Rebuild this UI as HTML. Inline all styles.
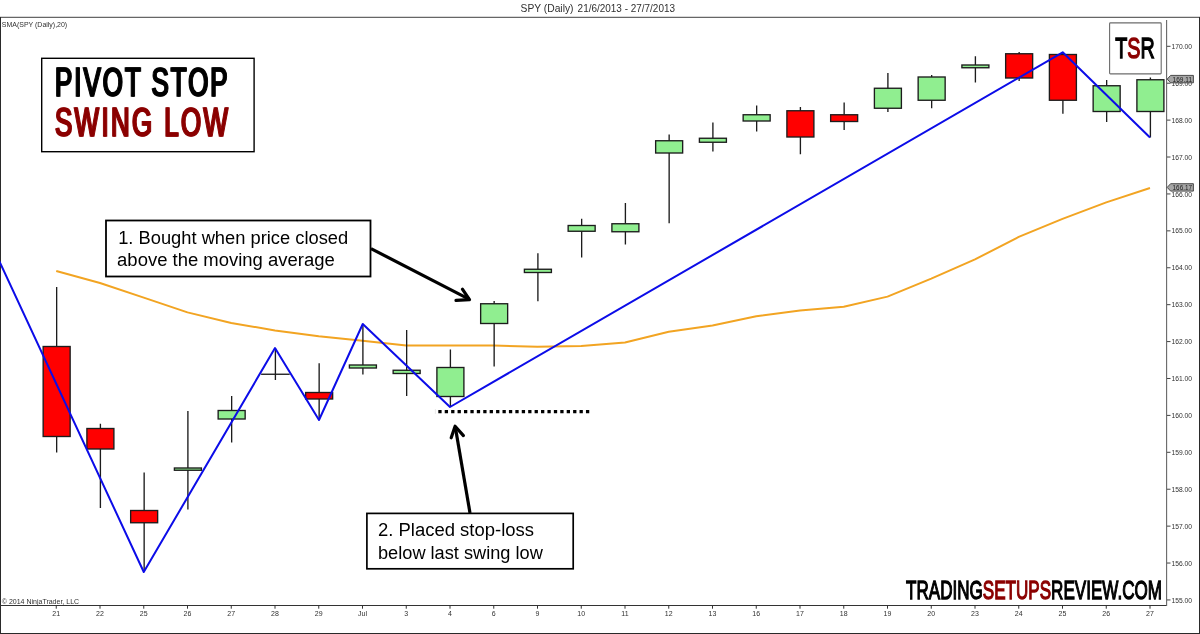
<!DOCTYPE html>
<html lang="en"><head><meta charset="utf-8"><title>Pivot Stop Swing Low</title>
<style>html,body{margin:0;padding:0;background:#fff;}body{width:1200px;height:634px;overflow:hidden;}svg{display:block;}text{font-family:'Liberation Sans', Arial, sans-serif;}</style>
</head><body>
<svg width="1200" height="634" viewBox="0 0 1200 634">
<rect x="0" y="0" width="1200" height="634" fill="#fff"/>
<defs><filter id="fat" x="-5%" y="-10%" width="110%" height="120%"><feOffset in="SourceGraphic" dx="1" dy="0" result="o"/><feMerge><feMergeNode in="SourceGraphic"/><feMergeNode in="o"/></feMerge></filter></defs>
<text y="11.7" font-size="10.2" fill="#303030"><tspan x="520.6" textLength="52.9" lengthAdjust="spacingAndGlyphs">SPY (Daily)</tspan> <tspan x="577.6" textLength="97.4" lengthAdjust="spacingAndGlyphs">21/6/2013 - 27/7/2013</tspan></text>
<g fill="none">
<line x1="0" y1="17.3" x2="1200" y2="17.3" stroke-width="1.2" stroke="#666"/>
<line x1="0.5" y1="17" x2="0.5" y2="634" stroke-width="1" stroke="#2a2a2a"/>
<line x1="0" y1="633.5" x2="1200" y2="633.5" stroke-width="1" stroke="#2a2a2a"/>
<line x1="1199.5" y1="17" x2="1199.5" y2="634" stroke-width="1" stroke="#2a2a2a"/>
<line x1="0" y1="605.5" x2="1167" y2="605.5" stroke-width="1" stroke="#333"/>
<line x1="1166.6" y1="20" x2="1166.6" y2="606" stroke-width="1.1" stroke="#666"/>
</g>
<g font-size="7" fill="#303030">
<line x1="1167" y1="599.95" x2="1170.5" y2="599.95" stroke="#444" stroke-width="1"/>
<text x="1171.5" y="602.55" textLength="20.5" lengthAdjust="spacingAndGlyphs">155.00</text>
<line x1="1167" y1="563.04" x2="1170.5" y2="563.04" stroke="#444" stroke-width="1"/>
<text x="1171.5" y="565.64" textLength="20.5" lengthAdjust="spacingAndGlyphs">156.00</text>
<line x1="1167" y1="526.13" x2="1170.5" y2="526.13" stroke="#444" stroke-width="1"/>
<text x="1171.5" y="528.73" textLength="20.5" lengthAdjust="spacingAndGlyphs">157.00</text>
<line x1="1167" y1="489.22" x2="1170.5" y2="489.22" stroke="#444" stroke-width="1"/>
<text x="1171.5" y="491.82" textLength="20.5" lengthAdjust="spacingAndGlyphs">158.00</text>
<line x1="1167" y1="452.31" x2="1170.5" y2="452.31" stroke="#444" stroke-width="1"/>
<text x="1171.5" y="454.91" textLength="20.5" lengthAdjust="spacingAndGlyphs">159.00</text>
<line x1="1167" y1="415.40" x2="1170.5" y2="415.40" stroke="#444" stroke-width="1"/>
<text x="1171.5" y="418.00" textLength="20.5" lengthAdjust="spacingAndGlyphs">160.00</text>
<line x1="1167" y1="378.49" x2="1170.5" y2="378.49" stroke="#444" stroke-width="1"/>
<text x="1171.5" y="381.09" textLength="20.5" lengthAdjust="spacingAndGlyphs">161.00</text>
<line x1="1167" y1="341.58" x2="1170.5" y2="341.58" stroke="#444" stroke-width="1"/>
<text x="1171.5" y="344.18" textLength="20.5" lengthAdjust="spacingAndGlyphs">162.00</text>
<line x1="1167" y1="304.67" x2="1170.5" y2="304.67" stroke="#444" stroke-width="1"/>
<text x="1171.5" y="307.27" textLength="20.5" lengthAdjust="spacingAndGlyphs">163.00</text>
<line x1="1167" y1="267.76" x2="1170.5" y2="267.76" stroke="#444" stroke-width="1"/>
<text x="1171.5" y="270.36" textLength="20.5" lengthAdjust="spacingAndGlyphs">164.00</text>
<line x1="1167" y1="230.85" x2="1170.5" y2="230.85" stroke="#444" stroke-width="1"/>
<text x="1171.5" y="233.45" textLength="20.5" lengthAdjust="spacingAndGlyphs">165.00</text>
<line x1="1167" y1="193.94" x2="1170.5" y2="193.94" stroke="#444" stroke-width="1"/>
<text x="1171.5" y="196.54" textLength="20.5" lengthAdjust="spacingAndGlyphs">166.00</text>
<line x1="1167" y1="157.03" x2="1170.5" y2="157.03" stroke="#444" stroke-width="1"/>
<text x="1171.5" y="159.63" textLength="20.5" lengthAdjust="spacingAndGlyphs">167.00</text>
<line x1="1167" y1="120.12" x2="1170.5" y2="120.12" stroke="#444" stroke-width="1"/>
<text x="1171.5" y="122.72" textLength="20.5" lengthAdjust="spacingAndGlyphs">168.00</text>
<line x1="1167" y1="83.21" x2="1170.5" y2="83.21" stroke="#444" stroke-width="1"/>
<text x="1171.5" y="85.81" textLength="20.5" lengthAdjust="spacingAndGlyphs">169.00</text>
<line x1="1167" y1="46.30" x2="1170.5" y2="46.30" stroke="#444" stroke-width="1"/>
<text x="1171.5" y="48.90" textLength="20.5" lengthAdjust="spacingAndGlyphs">170.00</text>
</g>
<g font-size="7" fill="#303030" text-anchor="middle">
<line x1="56.25" y1="605" x2="56.25" y2="608.7" stroke="#333" stroke-width="1"/>
<text x="56.25" y="616.1">21</text>
<line x1="100.00" y1="605" x2="100.00" y2="608.7" stroke="#333" stroke-width="1"/>
<text x="100.00" y="616.1">22</text>
<line x1="143.75" y1="605" x2="143.75" y2="608.7" stroke="#333" stroke-width="1"/>
<text x="143.75" y="616.1">25</text>
<line x1="187.50" y1="605" x2="187.50" y2="608.7" stroke="#333" stroke-width="1"/>
<text x="187.50" y="616.1">26</text>
<line x1="231.25" y1="605" x2="231.25" y2="608.7" stroke="#333" stroke-width="1"/>
<text x="231.25" y="616.1">27</text>
<line x1="275.00" y1="605" x2="275.00" y2="608.7" stroke="#333" stroke-width="1"/>
<text x="275.00" y="616.1">28</text>
<line x1="318.75" y1="605" x2="318.75" y2="608.7" stroke="#333" stroke-width="1"/>
<text x="318.75" y="616.1">29</text>
<line x1="362.50" y1="605" x2="362.50" y2="608.7" stroke="#333" stroke-width="1"/>
<text x="362.50" y="616.1">Jul</text>
<line x1="406.25" y1="605" x2="406.25" y2="608.7" stroke="#333" stroke-width="1"/>
<text x="406.25" y="616.1">3</text>
<line x1="450.00" y1="605" x2="450.00" y2="608.7" stroke="#333" stroke-width="1"/>
<text x="450.00" y="616.1">4</text>
<line x1="493.75" y1="605" x2="493.75" y2="608.7" stroke="#333" stroke-width="1"/>
<text x="493.75" y="616.1">6</text>
<line x1="537.50" y1="605" x2="537.50" y2="608.7" stroke="#333" stroke-width="1"/>
<text x="537.50" y="616.1">9</text>
<line x1="581.25" y1="605" x2="581.25" y2="608.7" stroke="#333" stroke-width="1"/>
<text x="581.25" y="616.1">10</text>
<line x1="625.00" y1="605" x2="625.00" y2="608.7" stroke="#333" stroke-width="1"/>
<text x="625.00" y="616.1">11</text>
<line x1="668.75" y1="605" x2="668.75" y2="608.7" stroke="#333" stroke-width="1"/>
<text x="668.75" y="616.1">12</text>
<line x1="712.50" y1="605" x2="712.50" y2="608.7" stroke="#333" stroke-width="1"/>
<text x="712.50" y="616.1">13</text>
<line x1="756.25" y1="605" x2="756.25" y2="608.7" stroke="#333" stroke-width="1"/>
<text x="756.25" y="616.1">16</text>
<line x1="800.00" y1="605" x2="800.00" y2="608.7" stroke="#333" stroke-width="1"/>
<text x="800.00" y="616.1">17</text>
<line x1="843.75" y1="605" x2="843.75" y2="608.7" stroke="#333" stroke-width="1"/>
<text x="843.75" y="616.1">18</text>
<line x1="887.50" y1="605" x2="887.50" y2="608.7" stroke="#333" stroke-width="1"/>
<text x="887.50" y="616.1">19</text>
<line x1="931.25" y1="605" x2="931.25" y2="608.7" stroke="#333" stroke-width="1"/>
<text x="931.25" y="616.1">20</text>
<line x1="975.00" y1="605" x2="975.00" y2="608.7" stroke="#333" stroke-width="1"/>
<text x="975.00" y="616.1">23</text>
<line x1="1018.75" y1="605" x2="1018.75" y2="608.7" stroke="#333" stroke-width="1"/>
<text x="1018.75" y="616.1">24</text>
<line x1="1062.50" y1="605" x2="1062.50" y2="608.7" stroke="#333" stroke-width="1"/>
<text x="1062.50" y="616.1">25</text>
<line x1="1106.25" y1="605" x2="1106.25" y2="608.7" stroke="#333" stroke-width="1"/>
<text x="1106.25" y="616.1">26</text>
<line x1="1150.00" y1="605" x2="1150.00" y2="608.7" stroke="#333" stroke-width="1"/>
<text x="1150.00" y="616.1">27</text>
</g>
<text x="1.8" y="26.8" font-size="7" fill="#303030" textLength="65.4" lengthAdjust="spacingAndGlyphs">SMA(SPY (Daily),20)</text>
<text x="1.8" y="603.9" font-size="7" fill="#303030" textLength="77.3" lengthAdjust="spacingAndGlyphs">© 2014 NinjaTrader, LLC</text>
<polyline points="56.25,271.00 100.00,283.00 143.75,297.60 187.50,312.40 231.25,323.00 275.00,330.40 318.75,336.25 362.50,340.75 406.25,345.50 450.00,345.50 493.75,345.50 537.50,346.75 581.25,346.00 625.00,342.50 668.75,331.75 712.50,325.50 756.25,316.25 800.00,310.50 843.75,306.80 887.50,296.60 931.25,278.60 975.00,259.40 1018.75,236.90 1062.50,218.90 1106.25,202.40 1150.00,188.00" fill="none" stroke="#f2a422" stroke-width="2" stroke-linejoin="round"/>
<g stroke="#1c1c1c" stroke-width="1.35">
<line x1="56.65" y1="287.00" x2="56.65" y2="452.50"/>
<rect x="43.15" y="346.50" width="27" height="90.00" fill="#ff0000"/>
<line x1="100.40" y1="423.75" x2="100.40" y2="508.00"/>
<rect x="86.90" y="428.50" width="27" height="20.50" fill="#ff0000"/>
<line x1="144.15" y1="472.50" x2="144.15" y2="572.00"/>
<rect x="130.65" y="510.50" width="27" height="12.25" fill="#ff0000"/>
<line x1="187.90" y1="411.00" x2="187.90" y2="509.50"/>
<rect x="174.40" y="468.00" width="27" height="2.25" fill="#90ee90"/>
<line x1="231.65" y1="396.00" x2="231.65" y2="442.50"/>
<rect x="218.15" y="410.50" width="27" height="8.50" fill="#90ee90"/>
<line x1="275.40" y1="348.00" x2="275.40" y2="380.00"/>
<line x1="261.10" y1="374.25" x2="289.70" y2="374.25"/>
<line x1="319.15" y1="363.25" x2="319.15" y2="420.00"/>
<rect x="305.65" y="392.50" width="27" height="6.50" fill="#ff0000"/>
<line x1="362.90" y1="324.25" x2="362.90" y2="374.50"/>
<rect x="349.40" y="365.00" width="27" height="3.00" fill="#90ee90"/>
<line x1="406.65" y1="330.00" x2="406.65" y2="396.00"/>
<rect x="393.15" y="370.25" width="27" height="3.25" fill="#90ee90"/>
<line x1="450.40" y1="349.50" x2="450.40" y2="407.00"/>
<rect x="436.90" y="367.50" width="27" height="29.00" fill="#90ee90"/>
<line x1="494.15" y1="301.00" x2="494.15" y2="366.50"/>
<rect x="480.65" y="303.75" width="27" height="19.75" fill="#90ee90"/>
<line x1="537.90" y1="253.25" x2="537.90" y2="301.25"/>
<rect x="524.40" y="269.25" width="27" height="3.25" fill="#90ee90"/>
<line x1="581.65" y1="218.75" x2="581.65" y2="257.50"/>
<rect x="568.15" y="225.50" width="27" height="5.75" fill="#90ee90"/>
<line x1="625.40" y1="203.00" x2="625.40" y2="244.50"/>
<rect x="611.90" y="223.75" width="27" height="8.00" fill="#90ee90"/>
<line x1="669.15" y1="134.50" x2="669.15" y2="223.25"/>
<rect x="655.65" y="140.75" width="27" height="12.25" fill="#90ee90"/>
<line x1="712.90" y1="122.50" x2="712.90" y2="151.50"/>
<rect x="699.40" y="138.25" width="27" height="4.00" fill="#90ee90"/>
<line x1="756.65" y1="105.50" x2="756.65" y2="131.50"/>
<rect x="743.15" y="114.75" width="27" height="6.25" fill="#90ee90"/>
<line x1="800.40" y1="107.00" x2="800.40" y2="154.25"/>
<rect x="786.90" y="110.75" width="27" height="26.25" fill="#ff0000"/>
<line x1="844.15" y1="102.50" x2="844.15" y2="130.00"/>
<rect x="830.65" y="114.75" width="27" height="6.75" fill="#ff0000"/>
<line x1="887.90" y1="73.00" x2="887.90" y2="112.00"/>
<rect x="874.40" y="88.25" width="27" height="20.00" fill="#90ee90"/>
<line x1="931.65" y1="75.00" x2="931.65" y2="108.25"/>
<rect x="918.15" y="77.00" width="27" height="23.25" fill="#90ee90"/>
<line x1="975.40" y1="56.25" x2="975.40" y2="82.50"/>
<rect x="961.90" y="65.00" width="27" height="2.75" fill="#90ee90"/>
<line x1="1019.15" y1="52.00" x2="1019.15" y2="81.00"/>
<rect x="1005.65" y="53.75" width="27" height="24.25" fill="#ff0000"/>
<line x1="1062.90" y1="52.00" x2="1062.90" y2="113.75"/>
<rect x="1049.40" y="54.50" width="27" height="45.75" fill="#ff0000"/>
<line x1="1106.65" y1="80.00" x2="1106.65" y2="122.00"/>
<rect x="1093.15" y="85.75" width="27" height="25.75" fill="#90ee90"/>
<line x1="1150.40" y1="77.50" x2="1150.40" y2="137.50"/>
<rect x="1136.90" y="79.75" width="27" height="31.75" fill="#90ee90"/>
</g>
<polyline points="-2.00,258.20 143.75,572.00 275.00,348.00 319.00,420.00 362.75,324.00 450.00,407.00 1062.70,52.30 1150.00,137.50" fill="none" stroke="#0c0ce8" stroke-width="2" stroke-linejoin="round"/>
<line x1="438.3" y1="411.6" x2="589.3" y2="411.6" stroke="#000" stroke-width="3.2" stroke-dasharray="3.3 3.12"/>
<line x1="435.4" y1="409" x2="435.4" y2="414" stroke="#e4e4e4" stroke-width="0.8"/>
<path d="M1167.2 79.10 L1170.6 75.40 H1193.4 V82.80 H1170.6 Z" fill="#a6a6a6" stroke="#3a3a3a" stroke-width="0.9"/>
<text x="1172.6" y="81.70" font-size="7" fill="#1a1a1a" textLength="19.4" lengthAdjust="spacingAndGlyphs">169.11</text>
<path d="M1167.2 187.40 L1170.6 183.70 H1193.4 V191.10 H1170.6 Z" fill="#a6a6a6" stroke="#3a3a3a" stroke-width="0.9"/>
<text x="1172.6" y="190.00" font-size="7" fill="#1a1a1a" textLength="19.4" lengthAdjust="spacingAndGlyphs">166.17</text>
<rect x="41.7" y="58.3" width="212.4" height="93.4" fill="#fff" stroke="#000" stroke-width="1.4"/>
<g font-size="40.4" filter="url(#fat)" stroke-width="1.2" stroke-linejoin="miter" stroke-miterlimit="3" style="vector-effect:non-scaling-stroke">
<text transform="translate(54.5,96.3) scale(0.640,1)" x="0" y="0" fill="#000" stroke="#000" vector-effect="non-scaling-stroke" textLength="269.69" lengthAdjust="spacing">PIVOT STOP</text>
<text transform="translate(54.4,136.3) scale(0.640,1)" x="0" y="0" fill="#8b0000" stroke="#8b0000" vector-effect="non-scaling-stroke" textLength="270.31" lengthAdjust="spacing">SWING LOW</text>
</g>
<rect x="1109.6" y="22.9" width="51.6" height="51" rx="0.8" fill="#fff" stroke="#6c6c6c" stroke-width="1.1"/>
<text transform="translate(1115.30,58.20) scale(0.6485,1)" font-size="30.38" stroke-width="1.20" stroke-linejoin="miter" stroke-miterlimit="3"><tspan fill="#000" stroke="#000" vector-effect="non-scaling-stroke">T</tspan><tspan fill="#8b0000" stroke="#8b0000" vector-effect="non-scaling-stroke">S</tspan><tspan fill="#000" stroke="#000" vector-effect="non-scaling-stroke">R</tspan></text>
<text transform="translate(906.05,599.05) scale(0.6453,1)" font-size="26.45" stroke-width="1.10" stroke-linejoin="miter" stroke-miterlimit="3"><tspan fill="#000" stroke="#000" vector-effect="non-scaling-stroke">TRADING</tspan><tspan fill="#8b0000" stroke="#8b0000" vector-effect="non-scaling-stroke">SETUPS</tspan><tspan fill="#000" stroke="#000" vector-effect="non-scaling-stroke">REVIEW.COM</tspan></text>
<g stroke="#000" stroke-width="3.2" fill="none" stroke-linecap="round" stroke-linejoin="round">
<line x1="371" y1="248.6" x2="469" y2="299.2" stroke-linecap="butt"/>
<polyline points="462.4,289.2 469.5,299.6 456,300.4"/>
<line x1="470" y1="513" x2="455.3" y2="427" stroke-linecap="butt"/>
<polyline points="451.2,437.8 455.1,426.2 463.4,435.6"/>
</g>
<rect x="106" y="220.5" width="264.5" height="56" fill="#fff" stroke="#000" stroke-width="1.8"/>
<g font-size="18.8" fill="#000">
<text x="118.2" y="243.75" textLength="230" lengthAdjust="spacingAndGlyphs">1. Bought when price closed</text>
<text x="117.1" y="265.5" textLength="217.6" lengthAdjust="spacingAndGlyphs">above the moving average</text>
</g>
<rect x="366.9" y="513.4" width="206.3" height="55.4" fill="#fff" stroke="#000" stroke-width="1.7"/>
<g font-size="18.8" fill="#000">
<text x="378" y="536" textLength="156" lengthAdjust="spacingAndGlyphs">2. Placed stop-loss</text>
<text x="378" y="558.6" textLength="164.8" lengthAdjust="spacingAndGlyphs">below last swing low</text>
</g>
</svg>
</body></html>
